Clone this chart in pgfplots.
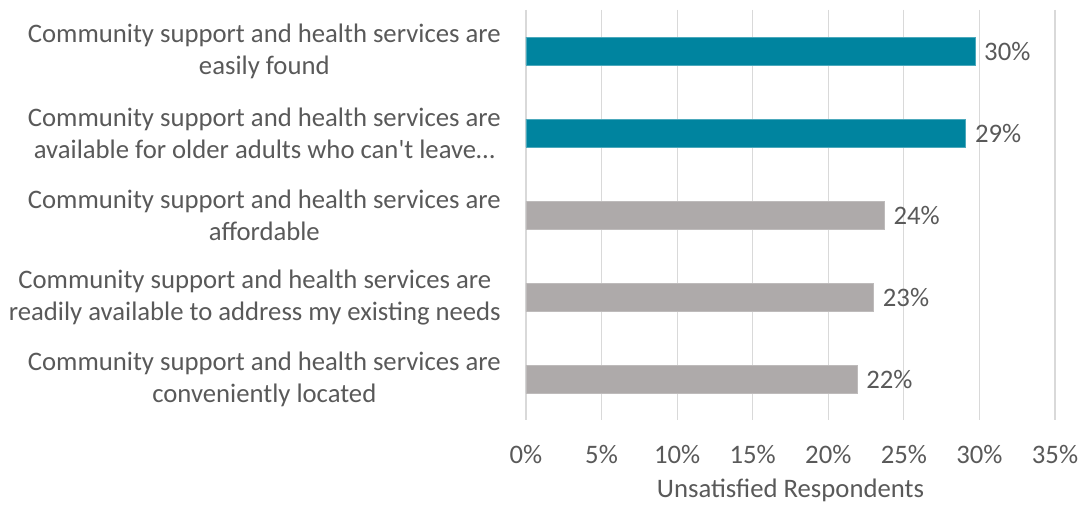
\documentclass[border=0pt]{standalone}
\usepackage{pgfplots}
\pgfplotsset{compat=1.18}
\usepackage{fontspec}
\setmainfont{Carlito}
\definecolor{teal1}{HTML}{00849F}
\definecolor{grey1}{HTML}{AEAAAA}
\definecolor{txt}{HTML}{595959}
\definecolor{gridc}{HTML}{D9D9D9}
\begin{document}
\fontsize{13.4bp}{16bp}\selectfont
\begin{tikzpicture}
\begin{axis}[
  name=ax,
  scale only axis,
  width=265.5bp, height=206bp,
  xbar, bar width=14bp, bar shift=0pt,
  xmin=0, xmax=35,
  ymin=0.5, ymax=5.5, y dir=reverse,
  axis line style={draw=none},
  xtick={0,5,10,15,20,25,30,35},
  xticklabel={\pgfmathprintnumber{\tick}\%},
  ytick={1,2,3,4,5},
  yticklabels={
    {Community support and health services are\\easily found},
    {Community support and health services are\\available for older adults who can\textquotesingle t leave\ldots},
    {Community support and health services are\\affordable},
    {Community support and health services are\\readily available to address my existing needs},
    {Community support and health services are\\conveniently located}},
  yticklabel style={align=center, font=\fontsize{13.4bp}{16bp}\selectfont, text=txt, xshift=-8bp},
  xticklabel style={font=\fontsize{13.4bp}{16bp}\selectfont, text=txt, yshift=-8bp},
  major tick length=0pt,
  xmajorgrids, grid style={gridc, line width=0.6bp},
  xlabel={Unsatisfied Respondents},
  xlabel style={font=\fontsize{13.4bp}{16bp}\selectfont, text=txt, yshift=1.5bp},
  nodes near coords={\pgfmathprintnumber[fixed,precision=0]{\pgfplotspointmeta}\%},
  nodes near coords style={font=\fontsize{13.4bp}{16bp}\selectfont, text=txt, anchor=west},
  /pgf/number format/assume math mode=true,
]
\addplot[fill=teal1, draw=teal1!70!white, line width=0.4bp] coordinates {(29.7,1) (29.1,2)};
\addplot[fill=grey1, draw=grey1!80!white, line width=0.4bp] coordinates {(23.7,3) (23.0,4) (21.9,5)};
\end{axis}
\path ([yshift=5bp]ax.north) ([yshift=-4bp]ax.outer south);
\end{tikzpicture}
\end{document}
